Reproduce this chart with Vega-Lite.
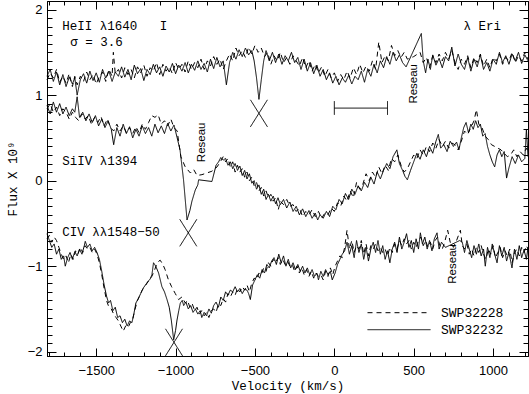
{
"$schema": "https://vega.github.io/schema/vega-lite/v6.json",
"width": 481, "height": 355,
"autosize": "none",
"padding": {"left": 47, "top": 1, "right": 1, "bottom": 38},
"background": "white",
"config": {
  "view": {"stroke": "black", "strokeWidth": 1},
  "axis": {"grid": false, "ticks": true, "domainColor": "black", "domainWidth": 1, "tickColor": "black", "tickWidth": 1, "labelColor": "black", "titleColor": "black", "labelFont": "Liberation Sans", "labelFontSize": 13, "titleFont": "Liberation Mono", "titleFontSize": 12.5, "titleFontWeight": "normal", "labelFlush": false, "labelOverlap": false}
},
"datasets": {
"heii_d": [{"v":-1810,"f":1.18},{"v":-1790,"f":1.26},{"v":-1770,"f":1.2},{"v":-1750,"f":1.3},{"v":-1730,"f":1.15},{"v":-1710,"f":1.22},{"v":-1690,"f":1.14},{"v":-1670,"f":1.25},{"v":-1650,"f":1.1},{"v":-1635,"f":1.22},{"v":-1620,"f":1.12},{"v":-1600,"f":1.22},{"v":-1580,"f":1.16},{"v":-1560,"f":1.27},{"v":-1540,"f":1.18},{"v":-1520,"f":1.24},{"v":-1500,"f":1.13},{"v":-1480,"f":1.22},{"v":-1460,"f":1.27},{"v":-1440,"f":1.16},{"v":-1420,"f":1.3},{"v":-1400,"f":1.22},{"v":-1392,"f":1.5},{"v":-1380,"f":1.25},{"v":-1360,"f":1.3},{"v":-1340,"f":1.2},{"v":-1320,"f":1.32},{"v":-1300,"f":1.24},{"v":-1280,"f":1.3},{"v":-1260,"f":1.2},{"v":-1240,"f":1.33},{"v":-1220,"f":1.26},{"v":-1200,"f":1.35},{"v":-1180,"f":1.22},{"v":-1160,"f":1.32},{"v":-1140,"f":1.28},{"v":-1120,"f":1.38},{"v":-1100,"f":1.24},{"v":-1080,"f":1.36},{"v":-1060,"f":1.28},{"v":-1040,"f":1.33},{"v":-1020,"f":1.25},{"v":-1000,"f":1.38},{"v":-980,"f":1.3},{"v":-960,"f":1.36},{"v":-940,"f":1.27},{"v":-920,"f":1.4},{"v":-900,"f":1.3},{"v":-880,"f":1.38},{"v":-860,"f":1.32},{"v":-840,"f":1.42},{"v":-820,"f":1.3},{"v":-800,"f":1.4},{"v":-780,"f":1.34},{"v":-760,"f":1.45},{"v":-740,"f":1.36},{"v":-720,"f":1.42},{"v":-700,"f":1.3},{"v":-680,"f":1.4},{"v":-660,"f":1.48},{"v":-640,"f":1.4},{"v":-620,"f":1.55},{"v":-600,"f":1.46},{"v":-580,"f":1.52},{"v":-560,"f":1.44},{"v":-540,"f":1.56},{"v":-520,"f":1.48},{"v":-500,"f":1.58},{"v":-480,"f":1.5},{"v":-460,"f":1.55},{"v":-440,"f":1.45},{"v":-420,"f":1.5},{"v":-400,"f":1.36},{"v":-380,"f":1.46},{"v":-360,"f":1.4},{"v":-340,"f":1.5},{"v":-320,"f":1.38},{"v":-300,"f":1.44},{"v":-280,"f":1.36},{"v":-260,"f":1.46},{"v":-240,"f":1.4},{"v":-220,"f":1.34},{"v":-200,"f":1.44},{"v":-180,"f":1.32},{"v":-160,"f":1.4},{"v":-140,"f":1.28},{"v":-120,"f":1.36},{"v":-100,"f":1.26},{"v":-80,"f":1.33},{"v":-60,"f":1.22},{"v":-40,"f":1.3},{"v":-20,"f":1.2},{"v":0,"f":1.26},{"v":20,"f":1.16},{"v":40,"f":1.24},{"v":60,"f":1.18},{"v":80,"f":1.28},{"v":100,"f":1.2},{"v":120,"f":1.32},{"v":140,"f":1.24},{"v":160,"f":1.36},{"v":180,"f":1.26},{"v":200,"f":1.34},{"v":220,"f":1.28},{"v":240,"f":1.4},{"v":260,"f":1.3},{"v":280,"f":1.62},{"v":300,"f":1.38},{"v":320,"f":1.46},{"v":340,"f":1.4},{"v":360,"f":1.58},{"v":380,"f":1.46},{"v":400,"f":1.52},{"v":420,"f":1.44},{"v":440,"f":1.5},{"v":460,"f":1.42},{"v":500,"f":1.45},{"v":540,"f":1.5},{"v":560,"f":1.38},{"v":580,"f":1.44},{"v":600,"f":1.32},{"v":620,"f":1.46},{"v":640,"f":1.38},{"v":660,"f":1.48},{"v":680,"f":1.4},{"v":700,"f":1.5},{"v":720,"f":1.42},{"v":740,"f":1.52},{"v":760,"f":1.38},{"v":780,"f":1.3},{"v":800,"f":1.42},{"v":820,"f":1.36},{"v":840,"f":1.46},{"v":860,"f":1.32},{"v":880,"f":1.44},{"v":900,"f":1.38},{"v":920,"f":1.48},{"v":940,"f":1.34},{"v":960,"f":1.42},{"v":980,"f":1.32},{"v":1000,"f":1.44},{"v":1020,"f":1.4},{"v":1040,"f":1.48},{"v":1060,"f":1.36},{"v":1080,"f":1.44},{"v":1100,"f":1.4},{"v":1120,"f":1.5},{"v":1140,"f":1.38},{"v":1160,"f":1.46},{"v":1180,"f":1.4},{"v":1200,"f":1.5},{"v":1220,"f":1.42}],
"heii_s": [{"v":-1810,"f":1.22},{"v":-1790,"f":1.3},{"v":-1770,"f":1.16},{"v":-1750,"f":1.27},{"v":-1730,"f":1.12},{"v":-1710,"f":1.24},{"v":-1690,"f":1.1},{"v":-1670,"f":1.21},{"v":-1650,"f":1.13},{"v":-1635,"f":1.2},{"v":-1620,"f":1.0},{"v":-1600,"f":1.18},{"v":-1580,"f":1.25},{"v":-1560,"f":1.14},{"v":-1540,"f":1.28},{"v":-1520,"f":1.17},{"v":-1500,"f":1.26},{"v":-1480,"f":1.15},{"v":-1460,"f":1.3},{"v":-1440,"f":1.2},{"v":-1420,"f":1.28},{"v":-1400,"f":1.16},{"v":-1380,"f":1.27},{"v":-1360,"f":1.22},{"v":-1340,"f":1.33},{"v":-1320,"f":1.21},{"v":-1300,"f":1.3},{"v":-1280,"f":1.18},{"v":-1260,"f":1.35},{"v":-1240,"f":1.25},{"v":-1220,"f":1.31},{"v":-1200,"f":1.17},{"v":-1180,"f":1.3},{"v":-1160,"f":1.24},{"v":-1140,"f":1.36},{"v":-1120,"f":1.26},{"v":-1100,"f":1.33},{"v":-1080,"f":1.22},{"v":-1060,"f":1.34},{"v":-1040,"f":1.27},{"v":-1020,"f":1.37},{"v":-1000,"f":1.25},{"v":-980,"f":1.35},{"v":-960,"f":1.28},{"v":-940,"f":1.38},{"v":-920,"f":1.26},{"v":-900,"f":1.36},{"v":-880,"f":1.29},{"v":-860,"f":1.4},{"v":-840,"f":1.3},{"v":-820,"f":1.37},{"v":-800,"f":1.27},{"v":-780,"f":1.42},{"v":-760,"f":1.31},{"v":-740,"f":1.44},{"v":-720,"f":1.33},{"v":-700,"f":1.4},{"v":-680,"f":1.12},{"v":-660,"f":1.38},{"v":-640,"f":1.5},{"v":-620,"f":1.42},{"v":-600,"f":1.53},{"v":-580,"f":1.45},{"v":-560,"f":1.55},{"v":-540,"f":1.47},{"v":-520,"f":1.52},{"v":-505,"f":1.4},{"v":-490,"f":1.2},{"v":-475,"f":0.95},{"v":-460,"f":1.18},{"v":-445,"f":1.4},{"v":-430,"f":1.52},{"v":-410,"f":1.4},{"v":-390,"f":1.5},{"v":-370,"f":1.38},{"v":-350,"f":1.48},{"v":-330,"f":1.36},{"v":-310,"f":1.46},{"v":-290,"f":1.4},{"v":-270,"f":1.5},{"v":-250,"f":1.38},{"v":-230,"f":1.44},{"v":-210,"f":1.3},{"v":-190,"f":1.42},{"v":-170,"f":1.28},{"v":-150,"f":1.38},{"v":-130,"f":1.25},{"v":-110,"f":1.35},{"v":-90,"f":1.22},{"v":-70,"f":1.3},{"v":-50,"f":1.18},{"v":-30,"f":1.26},{"v":-10,"f":1.14},{"v":10,"f":1.22},{"v":30,"f":1.12},{"v":50,"f":1.2},{"v":70,"f":1.15},{"v":90,"f":1.23},{"v":110,"f":1.13},{"v":130,"f":1.22},{"v":150,"f":1.18},{"v":170,"f":1.28},{"v":190,"f":1.15},{"v":210,"f":1.3},{"v":230,"f":1.22},{"v":250,"f":1.36},{"v":270,"f":1.26},{"v":290,"f":1.4},{"v":310,"f":1.32},{"v":330,"f":1.45},{"v":350,"f":1.36},{"v":370,"f":1.5},{"v":390,"f":1.4},{"v":410,"f":1.47},{"v":430,"f":1.38},{"v":452,"f":1.33},{"v":548,"f":1.72},{"v":560,"f":1.4},{"v":575,"f":1.26},{"v":590,"f":1.42},{"v":605,"f":1.3},{"v":620,"f":1.47},{"v":640,"f":1.35},{"v":660,"f":1.43},{"v":680,"f":1.32},{"v":700,"f":1.45},{"v":720,"f":1.4},{"v":740,"f":1.56},{"v":760,"f":1.34},{"v":780,"f":1.48},{"v":800,"f":1.36},{"v":820,"f":1.3},{"v":840,"f":1.44},{"v":860,"f":1.28},{"v":880,"f":1.42},{"v":900,"f":1.33},{"v":920,"f":1.47},{"v":940,"f":1.3},{"v":960,"f":1.38},{"v":980,"f":1.28},{"v":1000,"f":1.42},{"v":1020,"f":1.36},{"v":1040,"f":1.5},{"v":1060,"f":1.38},{"v":1080,"f":1.46},{"v":1100,"f":1.36},{"v":1120,"f":1.48},{"v":1140,"f":1.4},{"v":1160,"f":1.5},{"v":1180,"f":1.37},{"v":1200,"f":1.47},{"v":1220,"f":1.4}],
"siiv_d": [{"v":-1810,"f":0.84},{"v":-1790,"f":0.9},{"v":-1770,"f":0.8},{"v":-1750,"f":0.86},{"v":-1730,"f":0.76},{"v":-1710,"f":0.84},{"v":-1690,"f":0.8},{"v":-1670,"f":0.72},{"v":-1650,"f":0.8},{"v":-1630,"f":0.74},{"v":-1610,"f":0.7},{"v":-1590,"f":0.78},{"v":-1570,"f":0.72},{"v":-1550,"f":0.76},{"v":-1530,"f":0.66},{"v":-1510,"f":0.74},{"v":-1490,"f":0.68},{"v":-1470,"f":0.75},{"v":-1450,"f":0.64},{"v":-1430,"f":0.72},{"v":-1410,"f":0.62},{"v":-1390,"f":0.58},{"v":-1370,"f":0.66},{"v":-1350,"f":0.58},{"v":-1330,"f":0.64},{"v":-1310,"f":0.56},{"v":-1290,"f":0.62},{"v":-1270,"f":0.55},{"v":-1250,"f":0.63},{"v":-1230,"f":0.56},{"v":-1210,"f":0.66},{"v":-1190,"f":0.6},{"v":-1170,"f":0.68},{"v":-1150,"f":0.76},{"v":-1130,"f":0.74},{"v":-1110,"f":0.77},{"v":-1090,"f":0.66},{"v":-1070,"f":0.7},{"v":-1050,"f":0.64},{"v":-1030,"f":0.72},{"v":-1010,"f":0.62},{"v":-990,"f":0.58},{"v":-967,"f":0.28},{"v":-939,"f":0.16},{"v":-907,"f":0.09},{"v":-886,"f":0.13},{"v":-865,"f":0.06},{"v":-834,"f":0.07},{"v":-771,"f":0.11},{"v":-739,"f":0.16},{"v":-718,"f":0.22},{"v":-700,"f":0.28},{"v":-685,"f":0.22},{"v":-670,"f":0.26},{"v":-655,"f":0.16},{"v":-640,"f":0.22},{"v":-625,"f":0.1},{"v":-610,"f":0.18},{"v":-595,"f":0.1},{"v":-580,"f":0.14},{"v":-565,"f":0.04},{"v":-550,"f":0.1},{"v":-535,"f":0.0},{"v":-520,"f":0.04},{"v":-505,"f":-0.06},{"v":-490,"f":-0.02},{"v":-475,"f":-0.12},{"v":-460,"f":-0.08},{"v":-445,"f":-0.18},{"v":-430,"f":-0.12},{"v":-415,"f":-0.2},{"v":-400,"f":-0.16},{"v":-385,"f":-0.24},{"v":-370,"f":-0.2},{"v":-353,"f":-0.34},{"v":-340,"f":-0.24},{"v":-320,"f":-0.28},{"v":-300,"f":-0.22},{"v":-280,"f":-0.3},{"v":-260,"f":-0.28},{"v":-240,"f":-0.36},{"v":-220,"f":-0.32},{"v":-200,"f":-0.42},{"v":-180,"f":-0.36},{"v":-160,"f":-0.4},{"v":-140,"f":-0.34},{"v":-120,"f":-0.42},{"v":-100,"f":-0.36},{"v":-80,"f":-0.44},{"v":-60,"f":-0.38},{"v":-40,"f":-0.4},{"v":-20,"f":-0.32},{"v":0,"f":-0.36},{"v":20,"f":-0.26},{"v":40,"f":-0.3},{"v":60,"f":-0.18},{"v":80,"f":-0.24},{"v":100,"f":-0.12},{"v":120,"f":-0.2},{"v":140,"f":-0.02},{"v":160,"f":-0.1},{"v":180,"f":-0.04},{"v":200,"f":0.08},{"v":220,"f":0.0},{"v":240,"f":0.1},{"v":260,"f":0.04},{"v":280,"f":0.16},{"v":300,"f":0.08},{"v":320,"f":0.18},{"v":340,"f":0.12},{"v":360,"f":0.26},{"v":380,"f":0.22},{"v":400,"f":0.3},{"v":420,"f":0.18},{"v":440,"f":0.1},{"v":460,"f":0.14},{"v":480,"f":0.22},{"v":500,"f":0.3},{"v":520,"f":0.26},{"v":540,"f":0.36},{"v":560,"f":0.3},{"v":580,"f":0.4},{"v":600,"f":0.34},{"v":620,"f":0.44},{"v":640,"f":0.38},{"v":660,"f":0.48},{"v":680,"f":0.4},{"v":700,"f":0.46},{"v":720,"f":0.38},{"v":740,"f":0.44},{"v":760,"f":0.42},{"v":780,"f":0.36},{"v":800,"f":0.46},{"v":820,"f":0.58},{"v":840,"f":0.54},{"v":860,"f":0.62},{"v":880,"f":0.7},{"v":895,"f":0.83},{"v":910,"f":0.66},{"v":930,"f":0.62},{"v":950,"f":0.52},{"v":970,"f":0.48},{"v":990,"f":0.42},{"v":1010,"f":0.4},{"v":1030,"f":0.38},{"v":1050,"f":0.36},{"v":1070,"f":0.32},{"v":1090,"f":0.28},{"v":1110,"f":0.3},{"v":1130,"f":0.36},{"v":1150,"f":0.28},{"v":1170,"f":0.34},{"v":1190,"f":0.3},{"v":1210,"f":0.38},{"v":1220,"f":0.34}],
"siiv_s": [{"v":-1810,"f":0.88},{"v":-1790,"f":0.78},{"v":-1770,"f":0.92},{"v":-1750,"f":0.8},{"v":-1730,"f":0.9},{"v":-1710,"f":0.78},{"v":-1690,"f":0.86},{"v":-1670,"f":0.76},{"v":-1650,"f":0.84},{"v":-1635,"f":0.8},{"v":-1620,"f":0.98},{"v":-1605,"f":0.74},{"v":-1585,"f":0.8},{"v":-1565,"f":0.7},{"v":-1545,"f":0.78},{"v":-1525,"f":0.68},{"v":-1505,"f":0.76},{"v":-1485,"f":0.64},{"v":-1465,"f":0.72},{"v":-1445,"f":0.62},{"v":-1425,"f":0.7},{"v":-1405,"f":0.6},{"v":-1390,"f":0.42},{"v":-1370,"f":0.62},{"v":-1350,"f":0.52},{"v":-1330,"f":0.66},{"v":-1310,"f":0.55},{"v":-1290,"f":0.63},{"v":-1270,"f":0.5},{"v":-1250,"f":0.6},{"v":-1230,"f":0.52},{"v":-1210,"f":0.64},{"v":-1190,"f":0.55},{"v":-1170,"f":0.62},{"v":-1150,"f":0.52},{"v":-1130,"f":0.66},{"v":-1110,"f":0.56},{"v":-1090,"f":0.64},{"v":-1070,"f":0.55},{"v":-1050,"f":0.67},{"v":-1030,"f":0.58},{"v":-1010,"f":0.65},{"v":-990,"f":0.5},{"v":-972,"f":0.36},{"v":-950,"f":0.01},{"v":-928,"f":-0.46},{"v":-910,"f":-0.35},{"v":-897,"f":-0.24},{"v":-876,"f":-0.11},{"v":-860,"f":-0.05},{"v":-855,"f":0.01},{"v":-771,"f":-0.01},{"v":-745,"f":0.18},{"v":-729,"f":0.22},{"v":-715,"f":0.27},{"v":-700,"f":0.24},{"v":-685,"f":0.26},{"v":-670,"f":0.18},{"v":-655,"f":0.22},{"v":-640,"f":0.14},{"v":-625,"f":0.2},{"v":-610,"f":0.12},{"v":-595,"f":0.17},{"v":-580,"f":0.06},{"v":-565,"f":0.12},{"v":-550,"f":0.02},{"v":-535,"f":0.08},{"v":-520,"f":-0.03},{"v":-505,"f":0.0},{"v":-490,"f":-0.1},{"v":-475,"f":-0.05},{"v":-460,"f":-0.16},{"v":-445,"f":-0.1},{"v":-430,"f":-0.22},{"v":-415,"f":-0.16},{"v":-400,"f":-0.24},{"v":-385,"f":-0.18},{"v":-370,"f":-0.27},{"v":-355,"f":-0.2},{"v":-340,"f":-0.28},{"v":-320,"f":-0.22},{"v":-300,"f":-0.32},{"v":-280,"f":-0.25},{"v":-260,"f":-0.36},{"v":-240,"f":-0.3},{"v":-220,"f":-0.4},{"v":-200,"f":-0.33},{"v":-180,"f":-0.42},{"v":-160,"f":-0.35},{"v":-140,"f":-0.44},{"v":-120,"f":-0.38},{"v":-105,"f":-0.46},{"v":-90,"f":-0.4},{"v":-70,"f":-0.44},{"v":-50,"f":-0.36},{"v":-30,"f":-0.42},{"v":-10,"f":-0.3},{"v":10,"f":-0.34},{"v":30,"f":-0.22},{"v":50,"f":-0.27},{"v":70,"f":-0.15},{"v":90,"f":-0.22},{"v":110,"f":-0.1},{"v":130,"f":-0.16},{"v":150,"f":-0.06},{"v":170,"f":-0.12},{"v":190,"f":-0.02},{"v":210,"f":-0.08},{"v":230,"f":0.04},{"v":250,"f":-0.04},{"v":270,"f":0.1},{"v":290,"f":0.02},{"v":310,"f":0.12},{"v":330,"f":0.2},{"v":350,"f":0.14},{"v":370,"f":0.28},{"v":394,"f":0.36},{"v":410,"f":0.2},{"v":430,"f":0.12},{"v":445,"f":0.05},{"v":460,"f":0.01},{"v":480,"f":0.12},{"v":500,"f":0.22},{"v":520,"f":0.32},{"v":540,"f":0.25},{"v":560,"f":0.36},{"v":580,"f":0.28},{"v":600,"f":0.4},{"v":620,"f":0.32},{"v":640,"f":0.46},{"v":655,"f":0.54},{"v":670,"f":0.38},{"v":690,"f":0.42},{"v":710,"f":0.34},{"v":730,"f":0.46},{"v":750,"f":0.4},{"v":770,"f":0.45},{"v":785,"f":0.36},{"v":800,"f":0.5},{"v":815,"f":0.62},{"v":830,"f":0.68},{"v":845,"f":0.56},{"v":860,"f":0.66},{"v":875,"f":0.6},{"v":890,"f":0.7},{"v":905,"f":0.62},{"v":920,"f":0.66},{"v":935,"f":0.52},{"v":950,"f":0.55},{"v":965,"f":0.4},{"v":980,"f":0.3},{"v":995,"f":0.22},{"v":1010,"f":0.16},{"v":1025,"f":0.3},{"v":1040,"f":0.36},{"v":1055,"f":0.28},{"v":1070,"f":0.34},{"v":1085,"f":0.03},{"v":1100,"f":0.15},{"v":1120,"f":0.28},{"v":1140,"f":0.2},{"v":1160,"f":0.3},{"v":1180,"f":0.22},{"v":1200,"f":0.26},{"v":1210,"f":0.6},{"v":1220,"f":0.28}],
"civ_d": [{"v":-1810,"f":-0.68},{"v":-1795,"f":-0.64},{"v":-1780,"f":-0.72},{"v":-1765,"f":-0.66},{"v":-1750,"f":-0.7},{"v":-1735,"f":-0.78},{"v":-1720,"f":-0.86},{"v":-1705,"f":-0.92},{"v":-1690,"f":-0.88},{"v":-1675,"f":-0.96},{"v":-1660,"f":-0.86},{"v":-1645,"f":-0.92},{"v":-1630,"f":-0.82},{"v":-1615,"f":-0.86},{"v":-1600,"f":-0.78},{"v":-1585,"f":-0.84},{"v":-1570,"f":-0.76},{"v":-1555,"f":-0.8},{"v":-1540,"f":-0.78},{"v":-1525,"f":-0.84},{"v":-1510,"f":-0.8},{"v":-1495,"f":-0.86},{"v":-1480,"f":-0.96},{"v":-1465,"f":-1.1},{"v":-1450,"f":-1.26},{"v":-1435,"f":-1.4},{"v":-1420,"f":-1.48},{"v":-1405,"f":-1.5},{"v":-1390,"f":-1.56},{"v":-1375,"f":-1.6},{"v":-1360,"f":-1.64},{"v":-1345,"f":-1.7},{"v":-1330,"f":-1.76},{"v":-1315,"f":-1.7},{"v":-1300,"f":-1.72},{"v":-1285,"f":-1.66},{"v":-1270,"f":-1.62},{"v":-1255,"f":-1.5},{"v":-1240,"f":-1.4},{"v":-1225,"f":-1.34},{"v":-1210,"f":-1.28},{"v":-1195,"f":-1.24},{"v":-1180,"f":-1.2},{"v":-1165,"f":-1.16},{"v":-1150,"f":-1.12},{"v":-1135,"f":-1.06},{"v":-1120,"f":-0.98},{"v":-1105,"f":-0.94},{"v":-1097,"f":-0.93},{"v":-1080,"f":-0.98},{"v":-1066,"f":-1.04},{"v":-1045,"f":-1.16},{"v":-1025,"f":-1.24},{"v":-1002,"f":-1.32},{"v":-981,"f":-1.39},{"v":-960,"f":-1.36},{"v":-939,"f":-1.43},{"v":-925,"f":-1.4},{"v":-910,"f":-1.48},{"v":-895,"f":-1.44},{"v":-880,"f":-1.52},{"v":-865,"f":-1.48},{"v":-850,"f":-1.56},{"v":-835,"f":-1.52},{"v":-820,"f":-1.58},{"v":-805,"f":-1.54},{"v":-790,"f":-1.6},{"v":-775,"f":-1.52},{"v":-760,"f":-1.5},{"v":-745,"f":-1.54},{"v":-730,"f":-1.44},{"v":-715,"f":-1.46},{"v":-700,"f":-1.38},{"v":-685,"f":-1.42},{"v":-670,"f":-1.32},{"v":-655,"f":-1.36},{"v":-640,"f":-1.3},{"v":-625,"f":-1.34},{"v":-610,"f":-1.26},{"v":-595,"f":-1.3},{"v":-580,"f":-1.24},{"v":-565,"f":-1.28},{"v":-550,"f":-1.22},{"v":-535,"f":-1.3},{"v":-520,"f":-1.2},{"v":-505,"f":-1.14},{"v":-490,"f":-1.16},{"v":-475,"f":-1.08},{"v":-460,"f":-1.1},{"v":-445,"f":-1.02},{"v":-430,"f":-1.06},{"v":-415,"f":-0.96},{"v":-400,"f":-1.0},{"v":-385,"f":-0.92},{"v":-370,"f":-0.96},{"v":-355,"f":-0.9},{"v":-340,"f":-0.98},{"v":-325,"f":-0.92},{"v":-310,"f":-0.98},{"v":-295,"f":-0.94},{"v":-280,"f":-1.0},{"v":-265,"f":-0.98},{"v":-250,"f":-1.06},{"v":-235,"f":-1.0},{"v":-220,"f":-1.08},{"v":-205,"f":-1.02},{"v":-190,"f":-1.1},{"v":-175,"f":-1.04},{"v":-160,"f":-1.12},{"v":-145,"f":-1.06},{"v":-130,"f":-1.14},{"v":-115,"f":-1.08},{"v":-100,"f":-1.12},{"v":-85,"f":-1.1},{"v":-70,"f":-1.16},{"v":-55,"f":-1.06},{"v":-40,"f":-1.12},{"v":-25,"f":-1.02},{"v":-10,"f":-1.1},{"v":5,"f":-1.0},{"v":20,"f":-0.94},{"v":35,"f":-0.88},{"v":50,"f":-0.9},{"v":65,"f":-0.78},{"v":80,"f":-0.58},{"v":95,"f":-0.8},{"v":110,"f":-0.7},{"v":125,"f":-0.84},{"v":140,"f":-0.76},{"v":155,"f":-0.8},{"v":170,"f":-0.7},{"v":185,"f":-0.86},{"v":200,"f":-0.74},{"v":215,"f":-0.88},{"v":230,"f":-0.76},{"v":245,"f":-0.8},{"v":260,"f":-0.74},{"v":275,"f":-0.82},{"v":290,"f":-0.78},{"v":305,"f":-0.84},{"v":320,"f":-0.8},{"v":335,"f":-0.88},{"v":350,"f":-0.78},{"v":365,"f":-0.84},{"v":380,"f":-0.74},{"v":395,"f":-0.8},{"v":410,"f":-0.7},{"v":425,"f":-0.76},{"v":440,"f":-0.68},{"v":455,"f":-0.74},{"v":470,"f":-0.7},{"v":485,"f":-0.8},{"v":500,"f":-0.72},{"v":515,"f":-0.78},{"v":530,"f":-0.7},{"v":545,"f":-0.66},{"v":560,"f":-0.76},{"v":575,"f":-0.7},{"v":590,"f":-0.78},{"v":605,"f":-0.72},{"v":620,"f":-0.8},{"v":635,"f":-0.7},{"v":650,"f":-0.66},{"v":665,"f":-0.76},{"v":680,"f":-0.8},{"v":695,"f":-0.72},{"v":714,"f":-0.58},{"v":730,"f":-0.72},{"v":750,"f":-0.78},{"v":770,"f":-0.7},{"v":794,"f":-0.58},{"v":806,"f":-0.76},{"v":820,"f":-0.8},{"v":835,"f":-0.74},{"v":850,"f":-0.86},{"v":865,"f":-0.8},{"v":880,"f":-0.88},{"v":895,"f":-0.78},{"v":910,"f":-0.84},{"v":925,"f":-0.76},{"v":940,"f":-0.86},{"v":955,"f":-0.92},{"v":970,"f":-0.8},{"v":985,"f":-0.86},{"v":1000,"f":-0.76},{"v":1015,"f":-0.9},{"v":1030,"f":-0.84},{"v":1045,"f":-0.78},{"v":1060,"f":-0.9},{"v":1075,"f":-0.82},{"v":1090,"f":-0.88},{"v":1105,"f":-0.8},{"v":1120,"f":-0.96},{"v":1135,"f":-0.84},{"v":1150,"f":-0.8},{"v":1165,"f":-0.88},{"v":1180,"f":-0.78},{"v":1195,"f":-0.84},{"v":1210,"f":-0.76},{"v":1220,"f":-0.8}],
"civ_s": [{"v":-1810,"f":-0.62},{"v":-1795,"f":-0.7},{"v":-1780,"f":-0.78},{"v":-1765,"f":-0.74},{"v":-1750,"f":-0.86},{"v":-1735,"f":-0.8},{"v":-1720,"f":-0.92},{"v":-1705,"f":-0.88},{"v":-1695,"f":-1.0},{"v":-1680,"f":-0.9},{"v":-1665,"f":-0.84},{"v":-1650,"f":-0.92},{"v":-1635,"f":-0.83},{"v":-1620,"f":-0.88},{"v":-1605,"f":-0.8},{"v":-1590,"f":-0.86},{"v":-1575,"f":-0.76},{"v":-1569,"f":-0.71},{"v":-1555,"f":-0.78},{"v":-1540,"f":-0.74},{"v":-1525,"f":-0.82},{"v":-1510,"f":-0.78},{"v":-1495,"f":-0.84},{"v":-1480,"f":-0.92},{"v":-1465,"f":-1.06},{"v":-1450,"f":-1.22},{"v":-1435,"f":-1.35},{"v":-1422,"f":-1.43},{"v":-1410,"f":-1.4},{"v":-1395,"f":-1.52},{"v":-1380,"f":-1.48},{"v":-1365,"f":-1.6},{"v":-1350,"f":-1.58},{"v":-1335,"f":-1.66},{"v":-1320,"f":-1.62},{"v":-1305,"f":-1.7},{"v":-1290,"f":-1.64},{"v":-1275,"f":-1.66},{"v":-1262,"f":-1.55},{"v":-1250,"f":-1.43},{"v":-1235,"f":-1.38},{"v":-1220,"f":-1.32},{"v":-1205,"f":-1.26},{"v":-1190,"f":-1.22},{"v":-1175,"f":-1.18},{"v":-1160,"f":-1.15},{"v":-1149,"f":-1.1},{"v":-1139,"f":-0.96},{"v":-1125,"f":-1.0},{"v":-1107,"f":-1.08},{"v":-1086,"f":-1.24},{"v":-1070,"f":-1.3},{"v":-1054,"f":-1.39},{"v":-1040,"f":-1.48},{"v":-1027,"f":-1.63},{"v":-1012,"f":-1.86},{"v":-1000,"f":-1.75},{"v":-991,"f":-1.63},{"v":-980,"f":-1.52},{"v":-970,"f":-1.43},{"v":-958,"f":-1.4},{"v":-949,"f":-1.46},{"v":-935,"f":-1.42},{"v":-920,"f":-1.5},{"v":-905,"f":-1.46},{"v":-890,"f":-1.54},{"v":-875,"f":-1.5},{"v":-860,"f":-1.56},{"v":-845,"f":-1.52},{"v":-835,"f":-1.6},{"v":-820,"f":-1.54},{"v":-805,"f":-1.58},{"v":-790,"f":-1.5},{"v":-775,"f":-1.55},{"v":-760,"f":-1.46},{"v":-745,"f":-1.42},{"v":-730,"f":-1.48},{"v":-715,"f":-1.36},{"v":-700,"f":-1.4},{"v":-685,"f":-1.3},{"v":-670,"f":-1.34},{"v":-655,"f":-1.28},{"v":-640,"f":-1.3},{"v":-625,"f":-1.24},{"v":-610,"f":-1.3},{"v":-595,"f":-1.26},{"v":-580,"f":-1.32},{"v":-565,"f":-1.27},{"v":-550,"f":-1.28},{"v":-540,"f":-1.32},{"v":-529,"f":-1.39},{"v":-515,"f":-1.22},{"v":-500,"f":-1.16},{"v":-485,"f":-1.1},{"v":-470,"f":-1.14},{"v":-455,"f":-1.04},{"v":-440,"f":-1.08},{"v":-425,"f":-0.98},{"v":-410,"f":-1.02},{"v":-395,"f":-0.94},{"v":-380,"f":-0.9},{"v":-365,"f":-0.98},{"v":-350,"f":-0.86},{"v":-335,"f":-0.96},{"v":-320,"f":-0.88},{"v":-305,"f":-1.0},{"v":-290,"f":-0.92},{"v":-275,"f":-1.02},{"v":-260,"f":-0.96},{"v":-245,"f":-1.04},{"v":-230,"f":-0.98},{"v":-215,"f":-1.06},{"v":-200,"f":-1.0},{"v":-185,"f":-1.08},{"v":-170,"f":-1.02},{"v":-155,"f":-1.1},{"v":-140,"f":-1.04},{"v":-125,"f":-1.12},{"v":-110,"f":-1.08},{"v":-100,"f":-1.16},{"v":-85,"f":-1.06},{"v":-70,"f":-1.12},{"v":-55,"f":-1.04},{"v":-40,"f":-1.1},{"v":-25,"f":-1.06},{"v":-13,"f":-1.16},{"v":5,"f":-1.08},{"v":20,"f":-0.98},{"v":35,"f":-0.92},{"v":50,"f":-0.86},{"v":65,"f":-0.82},{"v":80,"f":-0.72},{"v":95,"f":-0.86},{"v":110,"f":-0.76},{"v":125,"f":-0.9},{"v":140,"f":-0.7},{"v":155,"f":-0.84},{"v":170,"f":-0.74},{"v":185,"f":-0.92},{"v":200,"f":-0.78},{"v":215,"f":-0.94},{"v":230,"f":-0.8},{"v":245,"f":-0.72},{"v":260,"f":-0.84},{"v":275,"f":-0.7},{"v":290,"f":-0.86},{"v":305,"f":-0.76},{"v":320,"f":-0.92},{"v":335,"f":-0.82},{"v":350,"f":-0.96},{"v":365,"f":-0.8},{"v":380,"f":-0.72},{"v":395,"f":-0.84},{"v":410,"f":-0.66},{"v":425,"f":-0.8},{"v":440,"f":-0.72},{"v":455,"f":-0.62},{"v":470,"f":-0.78},{"v":485,"f":-0.7},{"v":500,"f":-0.84},{"v":515,"f":-0.68},{"v":530,"f":-0.8},{"v":542,"f":-0.61},{"v":555,"f":-0.74},{"v":570,"f":-0.66},{"v":585,"f":-0.8},{"v":600,"f":-0.7},{"v":615,"f":-0.82},{"v":630,"f":-0.68},{"v":647,"f":-0.61},{"v":660,"f":-0.8},{"v":675,"f":-0.72},{"v":700,"f":-0.78},{"v":790,"f":-0.7},{"v":806,"f":-0.72},{"v":820,"f":-0.84},{"v":835,"f":-0.7},{"v":850,"f":-0.8},{"v":865,"f":-0.9},{"v":880,"f":-0.76},{"v":895,"f":-0.86},{"v":910,"f":-0.74},{"v":925,"f":-0.88},{"v":940,"f":-0.8},{"v":951,"f":-1.0},{"v":965,"f":-0.78},{"v":980,"f":-0.9},{"v":995,"f":-0.74},{"v":1010,"f":-0.86},{"v":1025,"f":-0.96},{"v":1040,"f":-0.76},{"v":1055,"f":-0.88},{"v":1070,"f":-0.78},{"v":1085,"f":-0.94},{"v":1100,"f":-0.84},{"v":1119,"f":-1.02},{"v":1135,"f":-0.8},{"v":1150,"f":-0.92},{"v":1165,"f":-0.76},{"v":1180,"f":-0.9},{"v":1195,"f":-0.81},{"v":1210,"f":-0.92},{"v":1220,"f":-0.78}]
},
"encoding": {
  "x": {"field": "v", "type": "quantitative", "scale": {"domain": [-1810, 1220], "nice": false, "zero": false}, "axis": null},
  "y": {"field": "f", "type": "quantitative", "scale": {"domain": [-2.05, 2.1], "nice": false, "zero": false}, "axis": null},
  "strokeDash": {"datum": "SWP32232", "type": "nominal", "scale": {"domain": ["SWP32228", "SWP32232"], "range": [[5, 4], [1, 0]]}, "legend": {"orient": "none", "legendX": 342.5, "legendY": 302.2, "title": null, "symbolType": "M-3.5,0H3.5", "symbolSize": 324, "symbolStrokeColor": "black", "symbolStrokeWidth": 1, "labelFont": "Liberation Mono", "labelFontSize": 13, "labelColor": "black", "labelOffset": 32.5, "padding": 0, "rowPadding": 0}}
},
"resolve": {"axis": {"x": "independent", "y": "independent"}},
"layer": [
  {
    "data": {"name": "heii_d"},
    "mark": {"type": "line", "color": "black", "strokeWidth": 1},
    "encoding": {
      "x": {"field": "v", "type": "quantitative", "scale": {"domain": [-1810, 1220], "nice": false, "zero": false},
        "axis": {"orient": "bottom", "values": [-1500, -1000, -500, 0, 500, 1000], "format": "d", "tickSize": -8, "labelPadding": 16.5, "title": "Velocity (km/s)", "titlePadding": 2, "labelOverlap": false, "labelFlush": false}},
      "y": {"field": "f", "type": "quantitative", "scale": {"domain": [-2.05, 2.1], "nice": false, "zero": false},
        "axis": {"orient": "left", "values": [-2, -1, 0, 1, 2], "format": "d", "tickSize": -9, "labelPadding": 14, "title": "Flux X 10⁹", "titlePadding": 8, "labelOverlap": false, "labelFlush": false}},
      "strokeDash": {"datum": "SWP32228", "type": "nominal", "scale": {"domain": ["SWP32228", "SWP32232"], "range": [[5, 4], [1, 0]]}, "legend": {"orient": "none", "legendX": 342.5, "legendY": 302.2, "title": null, "symbolType": "M-3.5,0H3.5", "symbolSize": 324, "symbolStrokeColor": "black", "symbolStrokeWidth": 1, "labelFont": "Liberation Mono", "labelFontSize": 13, "labelColor": "black", "labelOffset": 32.5, "padding": 0, "rowPadding": 0}}
    }
  },
  {
    "data": {"name": "heii_s"},
    "mark": {"type": "line", "color": "black", "strokeWidth": 1},
    "encoding": {
      "x": {"field": "v", "type": "quantitative", "scale": {"domain": [-1810, 1220], "nice": false, "zero": false},
        "axis": {"orient": "bottom", "values": [-1800,-1700,-1600,-1400,-1300,-1200,-1100,-900,-800,-700,-600,-400,-300,-200,-100,100,200,300,400,600,700,800,900,1100,1200], "tickSize": -4, "labels": false, "title": null, "domain": false}},
      "y": {"field": "f", "type": "quantitative", "scale": {"domain": [-2.05, 2.1], "nice": false, "zero": false},
        "axis": {"orient": "left", "values": [-1.9,-1.8,-1.7,-1.6,-1.5,-1.4,-1.3,-1.2,-1.1,-0.9,-0.8,-0.7,-0.6,-0.5,-0.4,-0.3,-0.2,-0.1,0.1,0.2,0.3,0.4,0.5,0.6,0.7,0.8,0.9,1.1,1.2,1.3,1.4,1.5,1.6,1.7,1.8,1.9], "tickSize": -5, "labels": false, "title": null, "domain": false}}
    }
  },
  {
    "data": {"name": "siiv_d"},
    "mark": {"type": "line", "color": "black", "strokeWidth": 1},
    "encoding": {
      "x": {"field": "v", "type": "quantitative", "scale": {"domain": [-1810, 1220], "nice": false, "zero": false},
        "axis": {"orient": "top", "values": [-1500, -1000, -500, 0, 500, 1000], "tickSize": -8, "labels": false, "title": null}},
      "y": {"field": "f", "type": "quantitative", "scale": {"domain": [-2.05, 2.1], "nice": false, "zero": false},
        "axis": {"orient": "right", "values": [-2, -1, 0, 1, 2], "tickSize": -9, "labels": false, "title": null}},
      "strokeDash": {"datum": "SWP32228", "type": "nominal", "scale": {"domain": ["SWP32228", "SWP32232"], "range": [[5, 4], [1, 0]]}, "legend": {"orient": "none", "legendX": 342.5, "legendY": 302.2, "title": null, "symbolType": "M-3.5,0H3.5", "symbolSize": 324, "symbolStrokeColor": "black", "symbolStrokeWidth": 1, "labelFont": "Liberation Mono", "labelFontSize": 13, "labelColor": "black", "labelOffset": 32.5, "padding": 0, "rowPadding": 0}}
    }
  },
  {
    "data": {"name": "siiv_s"},
    "mark": {"type": "line", "color": "black", "strokeWidth": 1},
    "encoding": {
      "x": {"field": "v", "type": "quantitative", "scale": {"domain": [-1810, 1220], "nice": false, "zero": false},
        "axis": {"orient": "top", "values": [-1800,-1700,-1600,-1400,-1300,-1200,-1100,-900,-800,-700,-600,-400,-300,-200,-100,100,200,300,400,600,700,800,900,1100,1200], "tickSize": -4, "labels": false, "title": null, "domain": false}},
      "y": {"field": "f", "type": "quantitative", "scale": {"domain": [-2.05, 2.1], "nice": false, "zero": false},
        "axis": {"orient": "right", "values": [-1.9,-1.8,-1.7,-1.6,-1.5,-1.4,-1.3,-1.2,-1.1,-0.9,-0.8,-0.7,-0.6,-0.5,-0.4,-0.3,-0.2,-0.1,0.1,0.2,0.3,0.4,0.5,0.6,0.7,0.8,0.9,1.1,1.2,1.3,1.4,1.5,1.6,1.7,1.8,1.9], "tickSize": -5, "labels": false, "title": null, "domain": false}}
    }
  },
  {
    "data": {"name": "civ_d"},
    "mark": {"type": "line", "color": "black", "strokeWidth": 1},
    "encoding": {"strokeDash": {"datum": "SWP32228", "type": "nominal", "scale": {"domain": ["SWP32228", "SWP32232"], "range": [[5, 4], [1, 0]]}, "legend": {"orient": "none", "legendX": 342.5, "legendY": 302.2, "title": null, "symbolType": "M-3.5,0H3.5", "symbolSize": 324, "symbolStrokeColor": "black", "symbolStrokeWidth": 1, "labelFont": "Liberation Mono", "labelFontSize": 13, "labelColor": "black", "labelOffset": 32.5, "padding": 0, "rowPadding": 0}}}
  },
  {
    "data": {"name": "civ_s"},
    "mark": {"type": "line", "color": "black", "strokeWidth": 1}
  },
  {
    "data": {"values": [{"v": -475, "f": 0.787}, {"v": -920, "f": -0.61}, {"v": -1010, "f": -1.89}]},
    "mark": {"type": "point", "shape": "M-0.63,-1L0.63,1M0.63,-1L-0.63,1", "size": 729, "filled": false, "stroke": "black", "strokeWidth": 1, "opacity": 1},
    "encoding": {"strokeDash": {"value": [1, 0]}}
  },
  {
    "data": {"values": [{"v": 0, "v2": 335, "f": 0.848, "f2": 0.848}, {"v": 0, "v2": 0, "f": 0.77, "f2": 0.93}, {"v": 335, "v2": 335, "f": 0.77, "f2": 0.93}]},
    "mark": {"type": "rule", "color": "black", "strokeWidth": 1},
    "encoding": {"x2": {"field": "v2"}, "y2": {"field": "f2"}, "strokeDash": {"value": [1, 0]}}
  },
  {
    "data": {"values": [{"v": -1714, "f": 1.764, "t": "HeII λ1640\u00a0\u00a0\u00a0I"}, {"v": -1663, "f": 1.576, "t": "σ = 3.6"}, {"v": 813, "f": 1.756, "t": "λ Eri"}, {"v": -1714, "f": 0.185, "t": "SiIV λ1394"}, {"v": -1714, "f": -0.651, "t": "CIV λλ1548−50"}]},
    "mark": {"type": "text", "align": "left", "baseline": "alphabetic", "font": "Liberation Mono", "fontSize": 12.5, "color": "black"},
    "encoding": {"text": {"field": "t"}, "strokeDash": null}
  },
  {
    "data": {"values": [{"v": 504, "f": 1.132, "t": "Reseau"}, {"v": -833, "f": 0.448, "t": "Reseau"}, {"v": 747, "f": -0.973, "t": "Reseau"}]},
    "mark": {"type": "text", "align": "center", "baseline": "middle", "angle": 270, "font": "Liberation Sans", "fontSize": 11.5, "color": "black"},
    "encoding": {"text": {"field": "t"}, "strokeDash": null}
  }
]
}
